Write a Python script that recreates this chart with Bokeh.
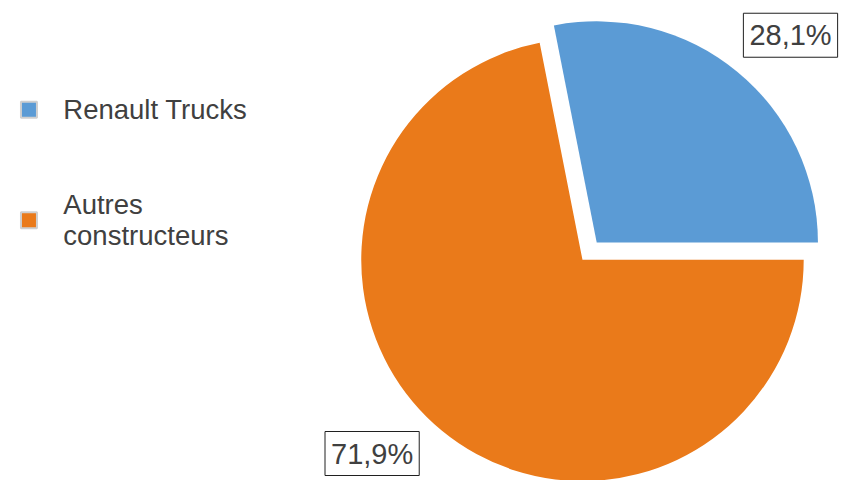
import math
from bokeh.plotting import figure
from bokeh.models import ColumnDataSource, Range1d
from bokeh.core.properties import value
from bokeh.embed import file_html
from bokeh.resources import INLINE

# ---- data ----
categories = ["Renault Trucks", "Autres constructeurs"]
legend_labels = ["Renault Trucks", "Autres\nconstructeurs"]
shares = [28.1, 71.9]
colors = ["#5B9BD5", "#EA7A1A"]

# ---- layout ----
W, H = 845, 480
FX, FY = W / 861.0, H / 496.0
S = (FX + FY) / 2


def X(px):
    return px * FX


def Y(py):
    return H - py * FY


cx, cy = X(593), Y(268)
radius = 227 * S
explode = [23 * S, 0.0]
label_dist = 1.335
label_shift = math.radians(6)
half_w, half_h = 53.0, 25.0

total = sum(shares)
starts, ends, xs, ys, lx, ly, texts = [], [], [], [], [], [], []
acc = 0.0
for s, e in zip(shares, explode):
    a0 = 2 * math.pi * acc / total
    acc += s
    a1 = 2 * math.pi * acc / total
    mid = (a0 + a1) / 2
    ox, oy = cx + e * math.cos(mid), cy + e * math.sin(mid)
    starts.append(a0); ends.append(a1); xs.append(ox); ys.append(oy)
    la = mid - label_shift
    px_ = ox + label_dist * radius * math.cos(la)
    py_ = oy + label_dist * radius * math.sin(la)
    # keep the label boxes inside the frame
    lx.append(min(max(px_, half_w + 2), W - half_w - 2))
    ly.append(min(max(py_, half_h + 2), H - half_h - 2))
    texts.append(f"{s:.1f}%".replace(".", ","))

src = ColumnDataSource(dict(x=xs, y=ys, start=starts, end=ends, color=colors,
                            lx=lx, ly=ly, text=texts))

p = figure(width=W, height=H, output_backend="svg", toolbar_location=None,
           x_range=Range1d(0, W), y_range=Range1d(0, H), min_border=0)
p.axis.visible = False
p.grid.visible = False
p.outline_line_color = None
p.background_fill_color = "white"

p.wedge(x="x", y="y", radius=radius, start_angle="start", end_angle="end",
        fill_color="color", line_color=None, source=src)

p.text(x="lx", y="ly", text="text", source=src, text_font=value("Liberation Sans"),
       text_font_size="29px", text_color="#404040", text_align="center",
       text_baseline="middle", border_line_color="#202020", border_line_width=1,
       background_fill_color="white", padding=6)

# legend (manual)
leg_x = X(29)
leg_y = [Y(113), Y(227)]
leg_src = ColumnDataSource(dict(x=[leg_x] * 2, y=leg_y, color=colors,
                                tx=[X(64)] * 2, text=legend_labels))
p.scatter(x="x", y="y", marker="square", size=16, fill_color="color",
          line_color="#cfcfcf", line_width=2, source=leg_src)
p.text(x="tx", y="y", text="text", source=leg_src, text_font=value("Liberation Sans"),
       text_font_size="27.5px", text_color="#404040", text_align="left",
       text_baseline="middle", text_line_height=1.0)

open("out.html", "w").write(file_html(p, INLINE))
